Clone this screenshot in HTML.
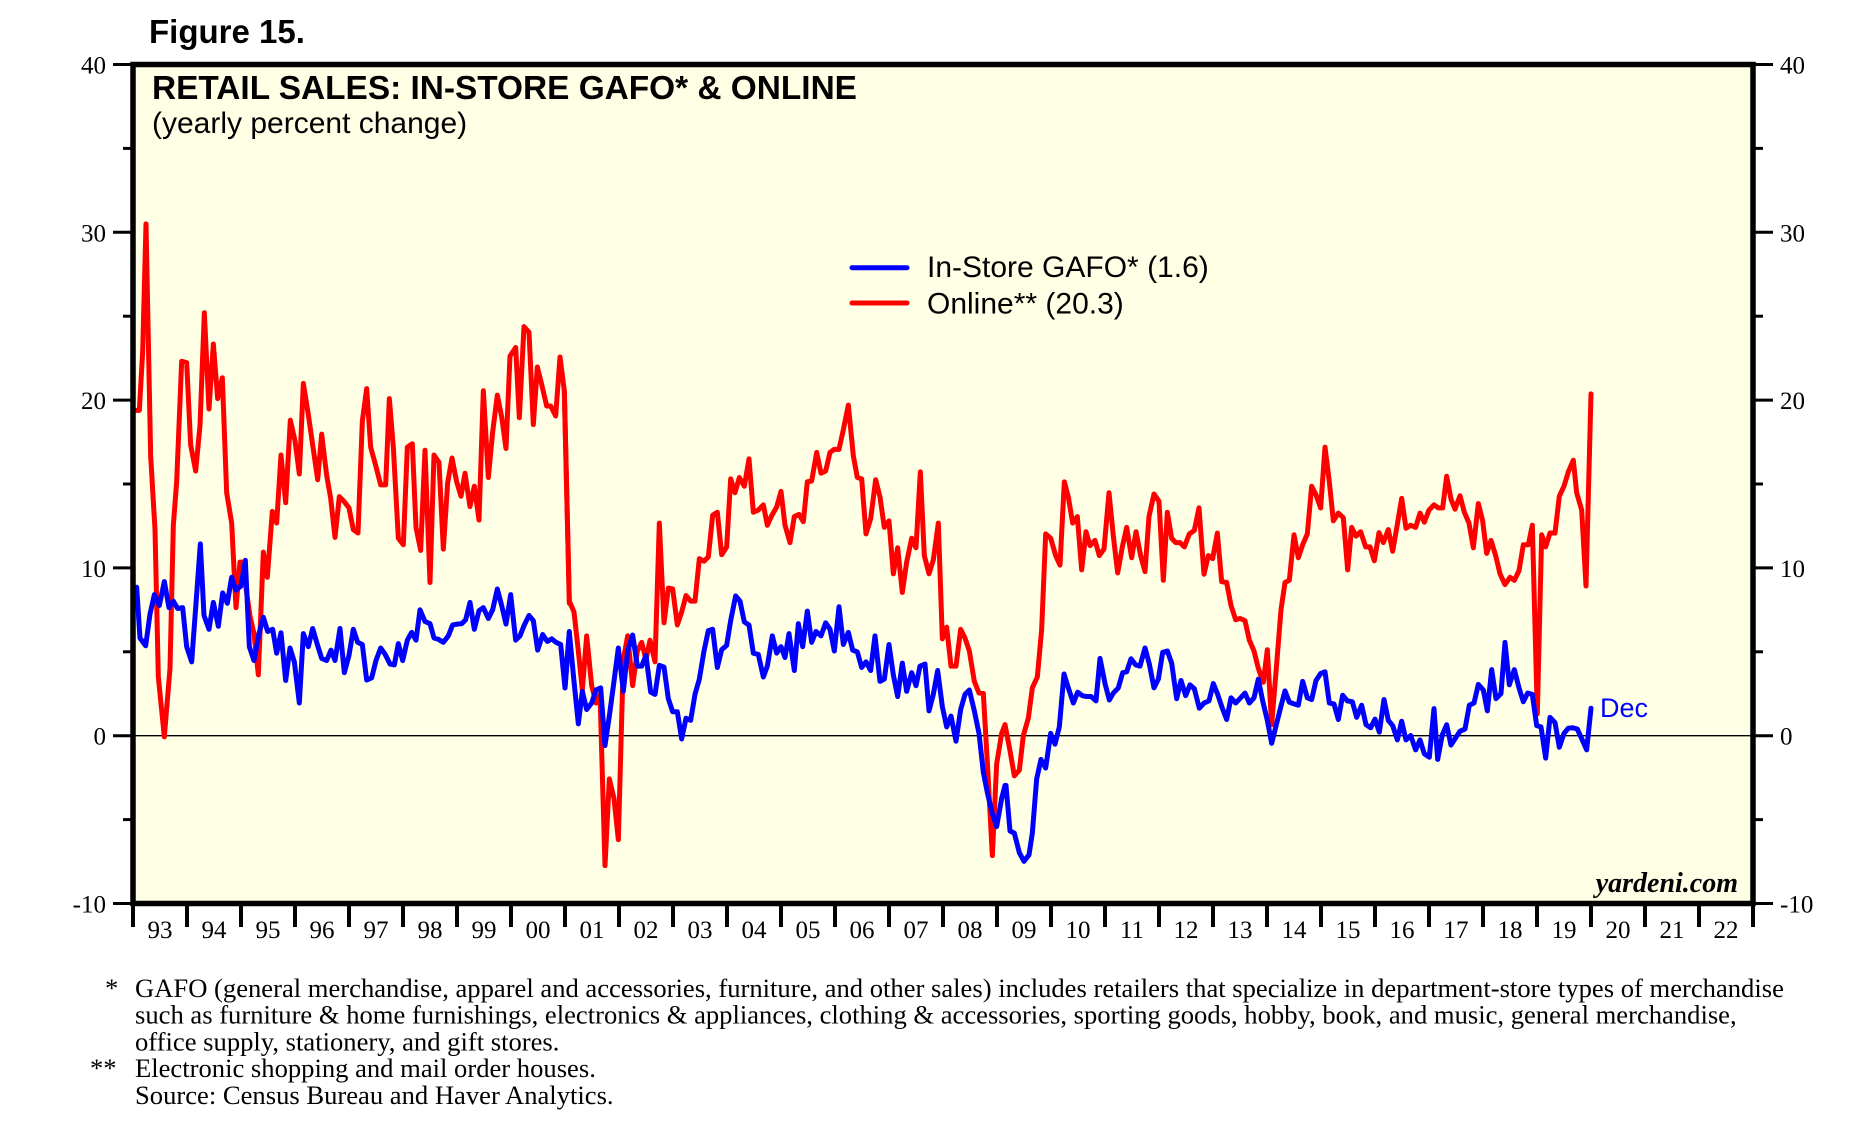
<!DOCTYPE html>
<html><head><meta charset="utf-8"><style>
html,body{margin:0;padding:0;background:#fff;}
svg{display:block;}
.ser{fill:none;stroke-width:5;stroke-linejoin:round;stroke-linecap:round;}
</style></head><body>
<svg width="1859" height="1125" viewBox="0 0 1859 1125" xmlns="http://www.w3.org/2000/svg">
<rect x="0" y="0" width="1859" height="1125" fill="#fff"/>
<text x="149" y="43" font-family="Liberation Sans, Arial, sans-serif" font-weight="bold" font-size="33">Figure 15.</text>
<rect x="133" y="64.5" width="1620" height="839" fill="#ffffe6"/>
<line x1="133" y1="735.7" x2="1753" y2="735.7" stroke="#000" stroke-width="1.3"/>

<!-- Red series -->
<g fill="none" stroke="#ff0000">
<polyline class="ser" vector-effect="non-scaling-stroke" transform="translate(130,200) scale(0.33333,0.43365)" points="20,485 28,485 38,350 48,55 62,590 75,760 85,1100 103,1238 120,1080 130,750 140,650 155,372 170,375 182,565 197,625 210,520 223,260 237,482 250,332 263,458 277,410 290,675 305,745 318,940 330,835 337,835 360,960 372,1000 385,1095 400,812 412,870 427,718 440,745 453,588 467,698 481,508 495,555 508,632 520,423 535,495 550,575 563,645 575,540 590,635 602,688 615,778 628,684 642,695 657,710 670,760 684,768 697,510 710,435 722,570 737,612 752,657 767,657 778,458 790,570 805,780 820,795 832,570 847,562 858,755 872,808 885,577 900,882 912,588 927,605 940,805 953,652 966,595 980,650 993,683 1005,630 1020,707 1033,660 1047,738 1060,440 1075,640 1088,535 1102,450 1115,500 1128,573 1140,360 1157,340 1168,502 1182,292 1197,305 1210,518 1222,385 1235,425 1250,475 1262,475 1277,498 1290,362 1303,440 1318,930"/>
<polyline class="ser" vector-effect="non-scaling-stroke" transform="translate(565,200) scale(0.33333,0.43365)" points="-2,440 13,925 27,950 40,1040 52,1130 65,1005 80,1120 93,1160 105,1140 120,1535 133,1335 147,1380 160,1475 175,1060 188,1005 203,1120 217,1040 230,1020 243,1060 255,1015 270,1065 283,745 297,975 310,895 323,897 337,980 350,950 363,912 377,925 390,925 403,827 417,833 430,823 443,727 457,720 470,818 485,800 497,643 510,675 523,640 538,660 552,597 565,720 580,715 595,703 607,750 620,728 635,708 648,672 660,750 675,790 688,730 702,725 715,742 727,650 740,648 755,582 768,630 782,625 795,582 808,575 822,575 835,530 850,473 865,590 877,640 890,643 903,770 917,735 932,645 945,685 958,755 972,740 985,862 998,802 1012,905 1025,835 1040,780 1053,802 1066,627 1078,820 1092,862 1105,830 1120,745 1132,1012 1145,985 1158,1075 1173,1075 1187,990 1200,1010 1213,1040 1228,1110 1242,1137 1255,1138 1268,1310 1282,1512 1295,1300 1310,1230 1320,1210"/>
<polyline class="ser" vector-effect="non-scaling-stroke" transform="translate(1000,200) scale(0.33333,0.43365)" points="15,1210 30,1270 43,1328 58,1315 70,1235 85,1195 97,1125 112,1100 125,990 137,770 152,780 167,820 180,842 193,650 205,685 218,745 232,730 245,853 258,765 270,797 285,785 298,820 312,805 327,675 340,775 353,860 367,800 380,755 395,825 408,765 422,820 435,857 447,730 462,678 477,695 490,877 502,720 515,780 527,790 540,790 553,800 568,770 583,762 597,710 612,863 625,820 638,827 652,768 665,880 680,882 693,935 707,968 720,965 735,970 748,1015 762,1040 775,1080 790,1112 802,1037 815,1210 830,1070 843,945 855,882 868,877 882,772 895,825 908,795 922,770 935,660 948,680 962,710"/>
<polyline class="ser" vector-effect="non-scaling-stroke" transform="translate(1320,200) scale(0.33333,0.43365)" points="2,710 15,570 28,650 40,740 55,722 70,733 83,853 95,755 108,775 122,765 137,800 150,800 163,832 177,767 190,790 205,760 218,810 232,748 245,688 258,757 272,750 287,755 300,722 313,743 327,715 342,703 355,710 368,710 380,637 393,690 405,713 420,682 433,720 447,745 460,802 475,700 488,740 500,815 513,785 527,820 540,862 555,887 570,870 583,877 597,855 610,795 625,795 637,750 652,1185 665,772 677,800 690,768 705,768 718,683 732,660 745,627 760,600 770,675 785,715 798,890 813,447"/>
</g>

<!-- Blue series -->
<g fill="none" stroke="#0000ff">
<polyline class="ser" vector-effect="non-scaling-stroke" transform="translate(130,200) scale(0.33333,0.43365)" points="20,893 30,1010 47,1028 60,955 73,910 88,935 103,880 117,940 130,925 143,942 158,940 170,1030 185,1065 198,930 211,793 222,958 237,990 250,928 265,983 278,906 292,930 305,870 318,900 333,890 346,831 358,1030 372,1062 387,1000 400,962 413,995 428,990 440,1045 453,998 467,1108 480,1033 493,1065 508,1160 520,1000 535,1030 548,988 562,1025 575,1057 590,1062 603,1038 615,1062 630,988 643,1090 657,1050 670,990 683,1020 697,1025 710,1107 725,1102 738,1062 752,1033 765,1047 780,1070 793,1072 805,1023 818,1062 832,1015 845,997 858,1015 870,945 885,972 900,977 912,1010 925,1013 940,1020 955,1005 968,980 982,978 995,977 1007,968 1020,928 1033,990 1047,947 1060,940 1075,965 1088,945 1102,897 1115,935 1128,978 1142,910 1157,1015 1170,1005 1183,980 1197,958 1210,970 1223,1038 1238,1002 1252,1018 1265,1012 1278,1020 1292,1025 1305,1125 1318,995"/>
<polyline class="ser" vector-effect="non-scaling-stroke" transform="translate(565,200) scale(0.33333,0.43365)" points="0,1125 13,997 27,1110 40,1208 52,1133 65,1175 80,1160 93,1130 107,1125 120,1258 133,1190 147,1110 160,1033 175,1133 188,1040 203,1003 217,1075 230,1075 243,1050 257,1135 270,1140 283,1073 297,1077 310,1150 323,1180 337,1180 350,1243 363,1195 377,1200 390,1140 403,1105 417,1040 430,993 443,990 457,1078 470,1037 485,1027 497,970 512,913 525,925 538,973 552,980 565,1045 580,1048 595,1100 607,1075 622,1005 635,1045 648,1030 660,1055 672,1000 688,1085 700,977 713,1030 727,948 740,1020 753,995 768,1005 782,975 795,990 808,1040 822,938 835,1025 850,997 863,1038 877,1042 890,1078 903,1065 917,1085 930,1005 945,1110 958,1105 972,1025 985,1095 998,1145 1012,1068 1025,1133 1040,1090 1053,1120 1065,1075 1080,1070 1092,1178 1105,1140 1118,1085 1132,1168 1145,1215 1158,1190 1173,1248 1187,1175 1200,1140 1213,1130 1228,1178 1242,1230 1255,1320 1268,1370 1282,1415 1295,1445 1310,1380 1320,1350"/>
<polyline class="ser" vector-effect="non-scaling-stroke" transform="translate(1000,200) scale(0.33333,0.43365)" points="5,1380 18,1350 30,1455 43,1460 58,1505 72,1525 87,1510 97,1460 110,1335 123,1290 137,1310 152,1230 165,1255 178,1215 192,1093 205,1125 220,1160 233,1135 247,1143 260,1145 273,1145 288,1155 300,1057 315,1115 328,1153 340,1137 355,1125 368,1090 380,1088 393,1058 407,1072 420,1075 435,1033 448,1070 462,1125 475,1105 488,1043 502,1040 515,1068 530,1150 543,1108 557,1143 570,1118 583,1127 598,1172 612,1160 627,1155 640,1115 653,1140 667,1172 680,1198 693,1148 707,1160 722,1148 735,1137 748,1160 762,1148 775,1105 788,1155 802,1200 815,1253 828,1213 842,1170 855,1132 868,1158 882,1162 895,1165 908,1110 922,1148 935,1152 948,1108 962,1092"/>
<polyline class="ser" vector-effect="non-scaling-stroke" transform="translate(1320,200) scale(0.33333,0.43365)" points="2,1092 15,1088 28,1160 42,1162 55,1198 68,1142 82,1155 97,1157 110,1193 125,1165 138,1210 152,1217 165,1197 178,1227 192,1152 205,1200 218,1212 232,1245 245,1202 258,1245 272,1235 287,1268 300,1245 313,1277 328,1285 342,1173 353,1290 367,1233 380,1210 393,1257 407,1240 420,1225 435,1220 448,1165 462,1160 475,1117 490,1130 502,1178 515,1083 528,1150 543,1138 555,1020 568,1118 583,1083 597,1125 610,1157 623,1137 637,1140 650,1212 663,1215 677,1287 690,1193 705,1205 718,1262 732,1230 745,1218 758,1217 772,1220 785,1242 800,1268 813,1172"/>
</g>

<!-- Frame -->
<rect x="133" y="64.5" width="1620" height="839" fill="none" stroke="#000" stroke-width="5.5"/>

<!-- Y ticks -->
<g stroke="#000" stroke-width="3">
<line x1="113" y1="64.5" x2="133" y2="64.5"/><line x1="113" y1="232.3" x2="133" y2="232.3"/><line x1="113" y1="400.1" x2="133" y2="400.1"/><line x1="113" y1="567.9" x2="133" y2="567.9"/><line x1="113" y1="735.7" x2="133" y2="735.7"/><line x1="113" y1="903.5" x2="133" y2="903.5"/>
<line x1="123" y1="148.4" x2="133" y2="148.4"/><line x1="123" y1="316.2" x2="133" y2="316.2"/><line x1="123" y1="484" x2="133" y2="484"/><line x1="123" y1="651.8" x2="133" y2="651.8"/><line x1="123" y1="819.6" x2="133" y2="819.6"/>
<line x1="1753" y1="64.5" x2="1773" y2="64.5"/><line x1="1753" y1="232.3" x2="1773" y2="232.3"/><line x1="1753" y1="400.1" x2="1773" y2="400.1"/><line x1="1753" y1="567.9" x2="1773" y2="567.9"/><line x1="1753" y1="735.7" x2="1773" y2="735.7"/><line x1="1753" y1="903.5" x2="1773" y2="903.5"/>
<line x1="1753" y1="148.4" x2="1763" y2="148.4"/><line x1="1753" y1="316.2" x2="1763" y2="316.2"/><line x1="1753" y1="484" x2="1763" y2="484"/><line x1="1753" y1="651.8" x2="1763" y2="651.8"/><line x1="1753" y1="819.6" x2="1763" y2="819.6"/>
</g>
<g font-family="Liberation Serif, Times New Roman, serif" font-size="25" fill="#000">
<g text-anchor="end">
<text x="106" y="73.5">40</text><text x="106" y="241.3">30</text><text x="106" y="409.1">20</text><text x="106" y="576.9">10</text><text x="106" y="744.7">0</text><text x="106" y="912.5">-10</text>
</g>
<g>
<text x="1780" y="73.5">40</text><text x="1780" y="241.3">30</text><text x="1780" y="409.1">20</text><text x="1780" y="576.9">10</text><text x="1780" y="744.7">0</text><text x="1780" y="912.5">-10</text>
</g>
</g>

<!-- X ticks -->
<g stroke="#000" stroke-width="4">
<line x1="133" y1="903" x2="133" y2="927"/><line x1="187" y1="903" x2="187" y2="927"/><line x1="241" y1="903" x2="241" y2="927"/><line x1="295" y1="903" x2="295" y2="927"/><line x1="349" y1="903" x2="349" y2="927"/><line x1="403" y1="903" x2="403" y2="927"/><line x1="457" y1="903" x2="457" y2="927"/><line x1="511" y1="903" x2="511" y2="927"/><line x1="565" y1="903" x2="565" y2="927"/><line x1="619" y1="903" x2="619" y2="927"/><line x1="673" y1="903" x2="673" y2="927"/><line x1="727" y1="903" x2="727" y2="927"/><line x1="781" y1="903" x2="781" y2="927"/><line x1="835" y1="903" x2="835" y2="927"/><line x1="889" y1="903" x2="889" y2="927"/><line x1="943" y1="903" x2="943" y2="927"/><line x1="997" y1="903" x2="997" y2="927"/><line x1="1051" y1="903" x2="1051" y2="927"/><line x1="1105" y1="903" x2="1105" y2="927"/><line x1="1159" y1="903" x2="1159" y2="927"/><line x1="1213" y1="903" x2="1213" y2="927"/><line x1="1267" y1="903" x2="1267" y2="927"/><line x1="1321" y1="903" x2="1321" y2="927"/><line x1="1375" y1="903" x2="1375" y2="927"/><line x1="1429" y1="903" x2="1429" y2="927"/><line x1="1483" y1="903" x2="1483" y2="927"/><line x1="1537" y1="903" x2="1537" y2="927"/><line x1="1591" y1="903" x2="1591" y2="927"/><line x1="1645" y1="903" x2="1645" y2="927"/><line x1="1699" y1="903" x2="1699" y2="927"/><line x1="1753" y1="903" x2="1753" y2="927"/>
</g>
<g font-family="Liberation Serif, Times New Roman, serif" font-size="25" fill="#000" text-anchor="middle">
<text x="160" y="938">93</text><text x="214" y="938">94</text><text x="268" y="938">95</text><text x="322" y="938">96</text><text x="376" y="938">97</text><text x="430" y="938">98</text><text x="484" y="938">99</text><text x="538" y="938">00</text><text x="592" y="938">01</text><text x="646" y="938">02</text><text x="700" y="938">03</text><text x="754" y="938">04</text><text x="808" y="938">05</text><text x="862" y="938">06</text><text x="916" y="938">07</text><text x="970" y="938">08</text><text x="1024" y="938">09</text><text x="1078" y="938">10</text><text x="1132" y="938">11</text><text x="1186" y="938">12</text><text x="1240" y="938">13</text><text x="1294" y="938">14</text><text x="1348" y="938">15</text><text x="1402" y="938">16</text><text x="1456" y="938">17</text><text x="1510" y="938">18</text><text x="1564" y="938">19</text><text x="1618" y="938">20</text><text x="1672" y="938">21</text><text x="1726" y="938">22</text>
</g>

<!-- Titles -->
<text x="152" y="99" font-family="Liberation Sans, Arial, sans-serif" font-weight="bold" font-size="33.4">RETAIL SALES: IN-STORE GAFO* &amp; ONLINE</text>
<text x="152" y="133" font-family="Liberation Sans, Arial, sans-serif" font-size="30">(yearly percent change)</text>

<!-- Legend -->
<line x1="852" y1="267.7" x2="907" y2="267.7" stroke="#0000ff" stroke-width="5" stroke-linecap="round"/>
<line x1="852" y1="303" x2="907" y2="303" stroke="#ff0000" stroke-width="5" stroke-linecap="round"/>
<text x="927" y="277" font-family="Liberation Sans, Arial, sans-serif" font-size="30">In-Store GAFO* (1.6)</text>
<text x="927" y="313.5" font-family="Liberation Sans, Arial, sans-serif" font-size="30">Online** (20.3)</text>

<text x="1600" y="717" font-family="Liberation Sans, Arial, sans-serif" font-size="27" fill="#0000ff">Dec</text>
<text x="1738" y="892" text-anchor="end" font-family="Liberation Serif, Times New Roman, serif" font-weight="bold" font-style="italic" font-size="28">yardeni.com</text>

<!-- Footnotes -->
<g font-family="Liberation Serif, Times New Roman, serif" font-size="26.6" fill="#000">
<text x="105" y="997">*</text>
<text x="135" y="997">GAFO (general merchandise, apparel and accessories, furniture, and other sales) includes retailers that specialize in department-store types of merchandise</text>
<text x="135" y="1023.7">such as furniture &amp; home furnishings, electronics &amp; appliances, clothing &amp; accessories, sporting goods, hobby, book, and music, general merchandise,</text>
<text x="135" y="1050.4">office supply, stationery, and gift stores.</text>
<text x="90" y="1077.1">**</text>
<text x="135" y="1077.1">Electronic shopping and mail order houses.</text>
<text x="135" y="1103.8">Source: Census Bureau and Haver Analytics.</text>
</g>
</svg>
</body></html>
